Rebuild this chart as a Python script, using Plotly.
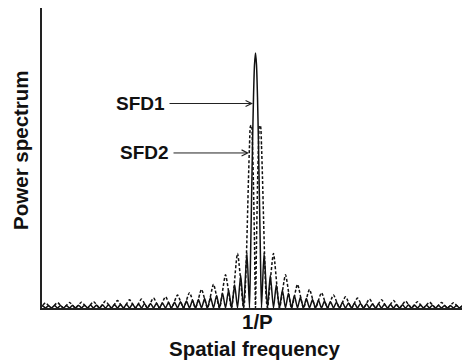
import plotly.graph_objects as go

# ---- data (x: offset from 1/P in arbitrary units, y: power, solid peak = 100)
solid_main_x = [0, 1, 2, 3, 4, 5, 6]
solid_main_y = [100, 95.4, 82.7, 63.7, 41.3, 19.1, 0]
solid_lobe_peak_x = [8.6, 14.8, 20.8, 26.9, 32.9, 38.9, 44.9, 50.9, 57, 63, 69, 75,
                     81, 87, 93, 99, 105, 111, 117, 123, 129, 135, 141, 147,
                     153, 159, 165, 171, 177, 183, 189, 195, 201, 207, 213, 219]
solid_lobe_zero_x = [12, 18, 24, 30, 36, 42, 48, 54, 60, 66, 72, 78,
                     84, 90, 96, 102, 108, 114, 120, 126, 132, 138, 144, 150,
                     156, 162, 168, 174, 180, 186, 192, 198, 204, 210, 216, 222]
solid_lobe_y = [21.7, 12.8, 9.1, 7.1, 5.8, 4.9, 4.2, 3.7, 3.3, 3.0, 2.7, 2.5,
                2.3, 2.2, 2.0, 1.9, 1.8, 1.7, 1.6, 1.55, 1.5, 1.4, 1.35, 1.3,
                1.25, 1.2, 1.15, 1.1, 1.1, 1.05, 1.0, 1.0, 0.95, 0.9, 0.9, 0.9]

dash_main_x = [0, 1, 2, 3, 4, 5, 6, 7, 8, 9, 10, 11, 12]
dash_main_y = [0, 25.6, 47.8, 63.7, 71.6, 71.3, 63.7, 50.9, 35.8, 21.2, 9.5, 2.3, 0]
dash_lobe_peak_x = [18, 30, 42, 54, 66, 78, 90, 102, 114, 126, 138, 150, 162, 174, 186, 198, 210, 222]
dash_lobe_zero_x = [24, 36, 48, 60, 72, 84, 96, 108, 120, 132, 144, 156, 168, 180, 192, 204, 216, 228]
dash_lobe_y = [21.4, 13.0, 9.3, 7.3, 6.0, 5.1, 4.4, 3.9, 3.5, 3.2, 2.9, 2.7, 2.5, 2.3, 2.2, 2.1, 2.0, 1.9]

center_label = "1/P"
x_title = "Spatial frequency"
y_title = "Power spectrum"
labels = ["SFD1", "SFD2"]


def build(main_x, main_y, px, zx, py):
    rx, ry = list(main_x), list(main_y)
    for a, b, h in zip(px, zx, py):
        rx += [a, b]
        ry += [h, 0]
    lx = [-v for v in rx[::-1]]
    ly = ry[::-1]
    return lx + rx[1:], ly + ry[1:]


sx, sy = build(solid_main_x, solid_main_y, solid_lobe_peak_x, solid_lobe_zero_x, solid_lobe_y)
dx, dy = build(dash_main_x, dash_main_y, dash_lobe_peak_x, dash_lobe_zero_x, dash_lobe_y)

fig = go.Figure()
fig.add_trace(go.Scatter(x=dx, y=dy, mode="lines",
                         line=dict(color="#111", width=1.5, dash="3px,2px", shape="spline", smoothing=0.6),
                         hoverinfo="skip", showlegend=False))
fig.add_trace(go.Scatter(x=sx, y=sy, mode="lines",
                         line=dict(color="#111", width=1.5, shape="spline", smoothing=0.6),
                         hoverinfo="skip", showlegend=False))

font = dict(family="Liberation Sans, Arial, sans-serif", size=19, color="#111", weight="bold")
font_title = dict(family="Liberation Sans, Arial, sans-serif", size=20.5, color="#111", weight="bold")

fig.update_layout(
    width=466, height=363,
    margin=dict(l=42, r=4, t=8, b=55),
    paper_bgcolor="white", plot_bgcolor="white",
    xaxis=dict(range=[-213.5, 206.5], showline=True, linecolor="#222", linewidth=1.5,
               showgrid=False, zeroline=False, showticklabels=False, ticks=""),
    yaxis=dict(range=[0, 117.65], showline=True, linecolor="#222", linewidth=1.5,
               showgrid=False, zeroline=False, showticklabels=False, ticks=""),
)

# axis labels
fig.add_annotation(x=0.507, y=-0.135, xref="paper", yref="paper", text=x_title,
                   showarrow=False, font=font_title, xanchor="center", yanchor="middle")
fig.add_annotation(x=-0.05, y=0.527, xref="paper", yref="paper", text=y_title,
                   showarrow=False, font=font_title, textangle=-90, xanchor="center", yanchor="middle")
fig.add_annotation(x=1.5, y=-0.045, xref="x", yref="paper", text=center_label,
                   showarrow=False, font=font_title, xanchor="center", yanchor="middle")

# SFD labels with arrows
for lab, tip_x, tail_x, yv in [(labels[0], -2.5, -87.5, 80.2), (labels[1], -6.5, -83.5, 60.8)]:
    fig.add_annotation(x=tail_x - 1.5, y=yv, xref="x", yref="y", text=lab, showarrow=False,
                       font=font, xanchor="right", yanchor="middle")
    fig.add_annotation(x=tip_x, y=yv, xref="x", yref="y", ax=tail_x, ay=yv, axref="x", ayref="y",
                       text="", showarrow=True, arrowhead=5, arrowsize=1.2, arrowwidth=1,
                       arrowcolor="#222", standoff=0)

fig.write_html("out.html")
